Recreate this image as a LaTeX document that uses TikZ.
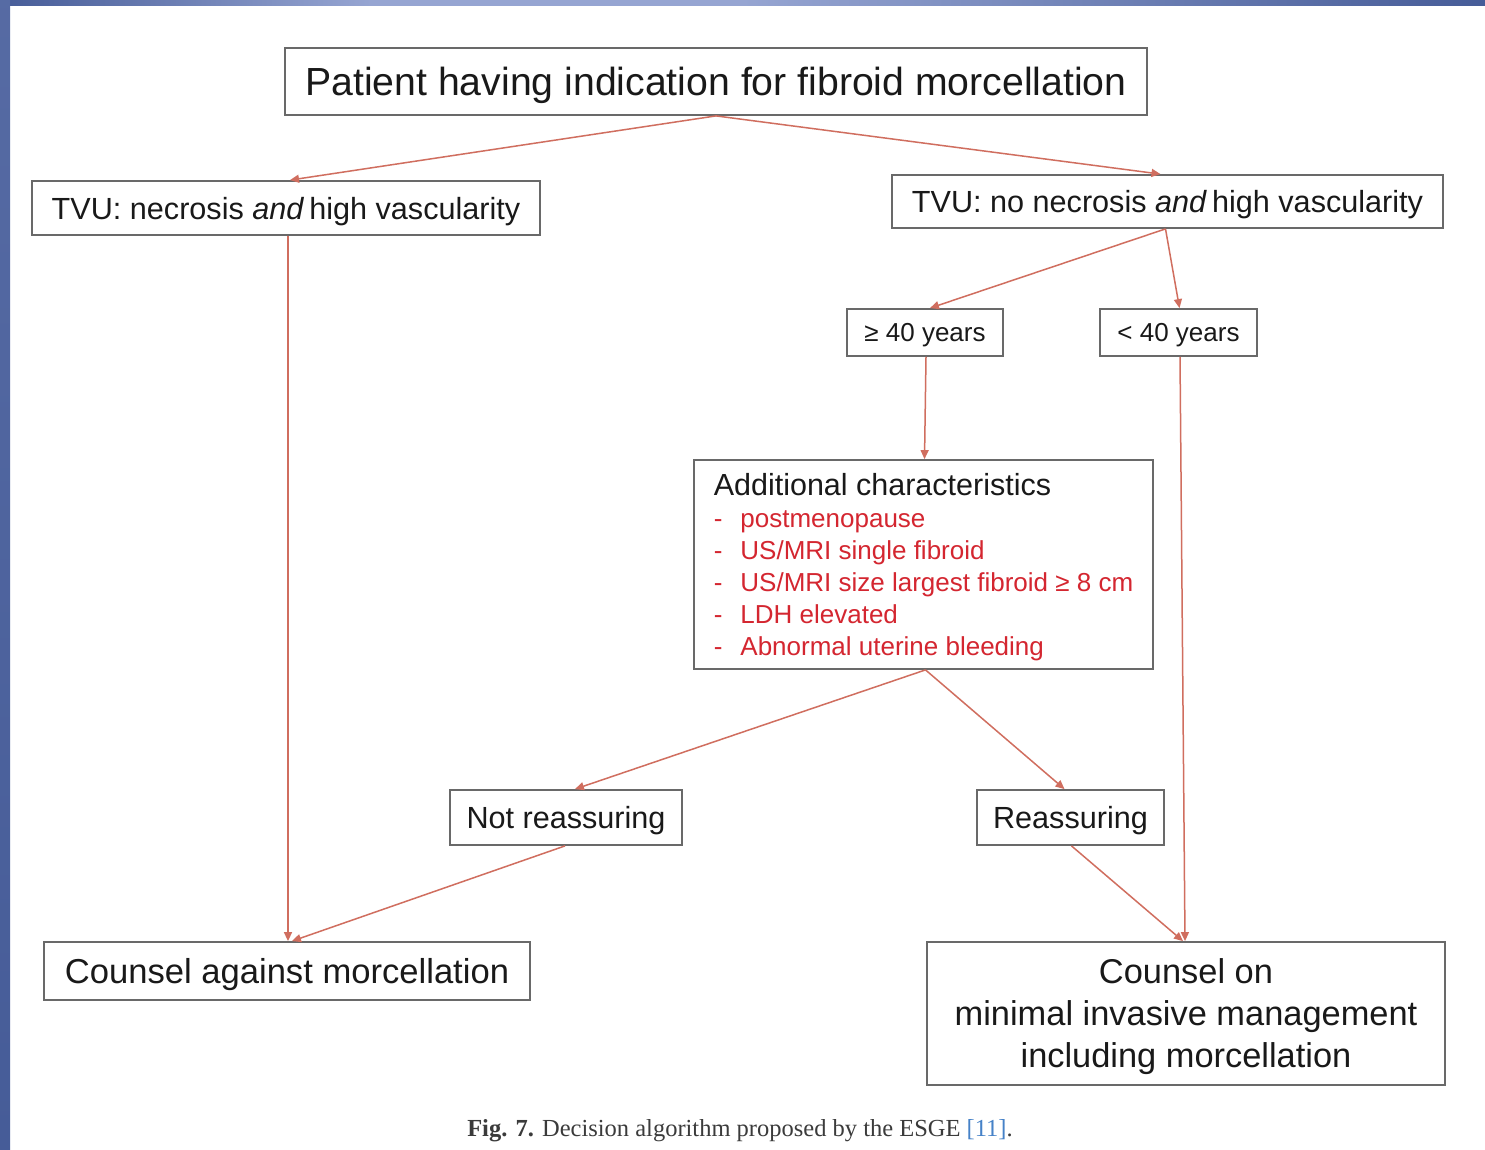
\documentclass[tikz,border=0pt]{standalone}
\usepackage{fontspec}
\setmainfont{Liberation Sans}
\newfontfamily\capfont{Liberation Serif}
\usetikzlibrary{arrows.meta}
\definecolor{arr}{RGB}{208,110,95}
\definecolor{itemred}{RGB}{212,38,48}
\definecolor{txt}{RGB}{25,25,25}
\definecolor{bordc}{RGB}{105,105,105}
\definecolor{blueA}{RGB}{70,92,152}
\definecolor{blueB}{RGB}{150,165,210}
\definecolor{refblue}{RGB}{70,130,200}
\begin{document}
\begin{tikzpicture}[x=1pt,y=-1pt,
  box/.style={draw=bordc,line width=1.8pt,fill=white,text=txt,inner sep=0pt,align=center,text depth=0pt},
  conn/.style={draw=arr,line width=1.5pt,-{Triangle[length=9pt,width=8pt]}},
  f30/.style={font=\fontsize{30.6}{36}\selectfont},
  f26/.style={font=\fontsize{26}{31}\selectfont}]
\useasboundingbox (0,0) rectangle (1485,1150);
\fill[white] (0,0) rectangle (1485,1150);
% blue frame bands
\shade[left color=blueA,right color=blueB,middle color=blueB] (0,0) rectangle (742,6);
\shade[left color=blueB,right color=blueA] (742,0) rectangle (1485,6);
\shade[top color=blueA!80!blueB,bottom color=blueA] (0,0) rectangle (10,1150);

% nodes
\node[box,minimum width=862,minimum height=67,font=\fontsize{39.2}{45}\selectfont] (top) at (716,81.5) {Patient having indication for fibroid morcellation};
\node[box,f30,minimum width=508,minimum height=54] (tvul) at (286,208) {TVU: necrosis \textit{and}\,high vascularity};
\node[box,f30,minimum width=551,minimum height=53] (tvur) at (1167.5,201.5) {TVU: no necrosis \textit{and}\,high vascularity};
\node[box,f26,minimum width=156,minimum height=47] (ge) at (925,332.5) {≥ 40 years};
\node[box,f26,minimum width=157,minimum height=47] (lt) at (1178.5,332.5) {< 40 years};
\node[box,minimum width=459,minimum height=209,align=left,font=\fontsize{26}{32}\selectfont] (add) at (923.5,564.5) {%
  {\fontsize{30.5}{34}\selectfont Additional characteristics}\\[0pt]
  \textcolor{itemred}{-\hspace{18pt}postmenopause}\\
  \textcolor{itemred}{-\hspace{18pt}US/MRI single fibroid}\\
  \textcolor{itemred}{-\hspace{18pt}US/MRI size largest fibroid ≥ 8 cm}\\
  \textcolor{itemred}{-\hspace{18pt}LDH elevated}\\
  \textcolor{itemred}{-\hspace{18pt}Abnormal uterine bleeding}};
\node[box,f30,minimum width=232,minimum height=55] (notr) at (566,817.5) {Not reassuring};
\node[box,f30,minimum width=187,minimum height=55] (reas) at (1070.5,817.5) {Reassuring};
\node[box,font=\fontsize{34.6}{41}\selectfont,minimum width=486,minimum height=58] (against) at (287,971) {Counsel against morcellation};
\node[box,font=\fontsize{34.4}{42}\selectfont,minimum width=518,minimum height=143] (on) at (1186,1013.5) {Counsel on\\minimal invasive management\\including morcellation};

\node[font=\capfont\fontsize{24.5}{28}\selectfont,text=txt!85] (cap) at (740,1131) {\textbf{Fig. 7.} Decision algorithm proposed by the ESGE {\color{refblue}[11]}.};

% connectors
\draw[conn] (top.south) -- ([xshift=4pt]tvul.north);
\draw[conn] (top.south) -- ([xshift=-7pt]tvur.north);
\draw[conn] ([xshift=-2pt]tvur.south) -- ([xshift=5pt]ge.north);
\draw[conn] ([xshift=-2pt]tvur.south) -- ([xshift=1pt]lt.north);
\draw[conn] ([xshift=1pt]ge.south) -- ([xshift=1pt]add.north);
\draw[conn] ([xshift=2pt]add.south) -- ([xshift=9pt]notr.north);
\draw[conn] ([xshift=2pt]add.south) -- ([xshift=-6pt]reas.north);
\draw[conn] ([xshift=2pt]tvul.south) -- ([xshift=1pt]against.north);
\draw[conn] ([xshift=-1pt]notr.south) -- ([xshift=5pt]against.north);
\draw[conn] ([xshift=1pt]reas.south) -- ([xshift=-3pt]on.north);
\draw[conn] ([xshift=1.5pt]lt.south) -- ([xshift=-1pt]on.north);
\end{tikzpicture}
\end{document}
